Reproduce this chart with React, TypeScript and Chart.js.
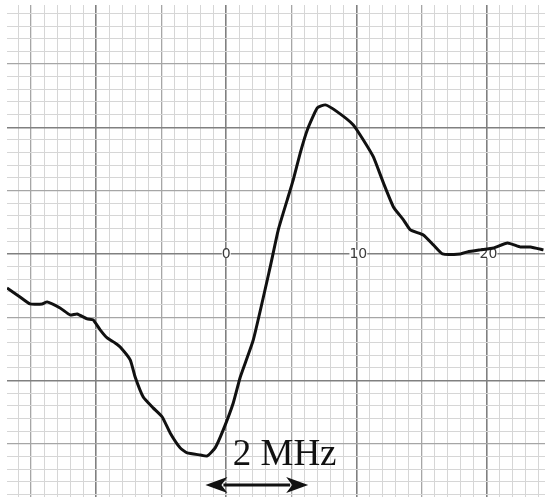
import React, { useEffect, useRef } from "react";
import { Chart, registerables } from "chart.js";

Chart.register(...registerables);

// Trace sampled from the recorder chart (x in chart divisions, y in chart divisions)
const traceX = [
  -16.85, -15.85, -15.08, -14.15, -13.77, -12.77, -12.0, -11.46, -10.69, -10.23,
  -9.69, -9.15, -8.54, -8.15, -7.38, -7.0, -6.38, -5.62, -4.92, -4.31,
  -3.54, -3.0, -2.0, -1.46, -0.85, -0.23, 0.54, 1.08, 2.08, 3.38,
  4.0, 4.69, 5.15, 5.69, 6.23, 7.0, 7.62, 8.54, 9.77, 10.54,
  11.31, 12.08, 12.85, 13.62, 14.15, 15.15, 15.92, 16.62, 18.0, 18.54,
  19.54, 20.54, 21.62, 22.62, 23.38, 24.38,
];
const traceY = [
  -2.69, -3.4, -3.95, -3.95, -3.79, -4.27, -4.82, -4.74, -5.13, -5.21,
  -6.0, -6.64, -7.03, -7.35, -8.37, -9.72, -11.3, -12.16, -12.88, -14.14,
  -15.32, -15.72, -15.88, -15.96, -15.32, -13.9, -11.77, -9.72, -6.79, -1.03,
  1.9, 4.27, 5.85, 7.98, 9.79, 11.53, 11.77, 11.22, 10.19, 9.0,
  7.66, 5.61, 3.71, 2.69, 1.9, 1.5, 0.71, 0.0, 0.0, 0.16,
  0.32, 0.47, 0.87, 0.55, 0.55, 0.32,
];

// Printed axis labels on the chart paper
const axisLabelValues = [0, 10, 20];
const axisLabels = ["0", "10", "20"];

// Scale annotation
const scaleBarText = "2 MHz";
const scaleBarFrom = -1.6;
const scaleBarTo = 6.3;
const scaleBarY = -18.25;
const scaleTextX = 0.5;
const scaleTextY = -16.7;

const X_MIN = -16.85;
const X_MAX = 24.5;
const Y_MIN = -19.2;
const Y_MAX = 19.66;

function gridColor(v: number) {
  if (Math.abs(v % 10) < 1e-6) return "#808080";
  if (Math.abs(v % 5) < 1e-6) return "#a6a6a6";
  return "#d6d6d6";
}
function gridWidth(v: number) {
  if (Math.abs(v % 10) < 1e-6) return 1.6;
  if (Math.abs(v % 5) < 1e-6) return 1.3;
  return 1;
}

const annotationPlugin = {
  id: "paperAnnotations",
  beforeDatasetsDraw(chart: any) {
    const { ctx, scales } = chart;
    const xs = scales.x;
    const ys = scales.y;
    ctx.save();
    ctx.font = "14px 'DejaVu Sans'";
    ctx.textAlign = "center";
    ctx.textBaseline = "middle";
    axisLabelValues.forEach((v, i) => {
      const w = ctx.measureText(axisLabels[i]).width;
      const px = xs.getPixelForValue(v) + (axisLabels[i].length > 1 ? 2 : 0);
      const py = ys.getPixelForValue(0);
      ctx.fillStyle = "#ffffff";
      ctx.fillRect(px - w / 2, py - 4, w, 8);
      ctx.fillStyle = "#3c3c3c";
      ctx.fillText(axisLabels[i], px, py);
    });
    ctx.restore();
  },
  afterDatasetsDraw(chart: any) {
    const { ctx, scales } = chart;
    const xs = scales.x;
    const ys = scales.y;
    ctx.save();
    ctx.font = "37px 'Liberation Serif'";
    ctx.fillStyle = "#111111";
    ctx.textAlign = "left";
    ctx.textBaseline = "alphabetic";
    ctx.fillText(scaleBarText, xs.getPixelForValue(scaleTextX), ys.getPixelForValue(scaleTextY));
    const x1 = xs.getPixelForValue(scaleBarFrom);
    const x2 = xs.getPixelForValue(scaleBarTo);
    const y = ys.getPixelForValue(scaleBarY);
    const head = 22;
    const half = 8;
    ctx.strokeStyle = "#111111";
    ctx.lineWidth = 3;
    ctx.beginPath();
    ctx.moveTo(x1 + head - 4, y);
    ctx.lineTo(x2 - head + 4, y);
    ctx.stroke();
    ctx.beginPath();
    ctx.moveTo(x1, y);
    ctx.lineTo(x1 + head, y - half);
    ctx.lineTo(x1 + head - 6, y);
    ctx.lineTo(x1 + head, y + half);
    ctx.closePath();
    ctx.fill();
    ctx.beginPath();
    ctx.moveTo(x2, y);
    ctx.lineTo(x2 - head, y - half);
    ctx.lineTo(x2 - head + 6, y);
    ctx.lineTo(x2 - head, y + half);
    ctx.closePath();
    ctx.fill();
    ctx.restore();
  },
};

export default function App() {
  const canvasRef = useRef<HTMLCanvasElement | null>(null);

  useEffect(() => {
    if (!canvasRef.current) return;
    const data = traceX.map((x, i) => ({ x, y: traceY[i] }));
    const chart = new Chart(canvasRef.current, {
      type: "line",
      data: {
        datasets: [
          {
            data,
            borderColor: "#111111",
            borderWidth: 3,
            pointRadius: 0,
            tension: 0.15,
            fill: false,
          },
        ],
      },
      options: {
        animation: false,
        responsive: false,
        maintainAspectRatio: false,
        layout: { padding: { left: 7, right: 5, top: 5, bottom: 4 } },
        plugins: { legend: { display: false }, tooltip: { enabled: false } },
        scales: {
          x: {
            type: "linear",
            min: X_MIN,
            max: X_MAX,
            border: { display: false },
            ticks: { display: false, stepSize: 1, includeBounds: false },
            grid: {
              drawTicks: false,
              color: (c: any) => gridColor(c.tick.value),
              lineWidth: (c: any) => gridWidth(c.tick.value),
            },
          },
          y: {
            type: "linear",
            min: Y_MIN,
            max: Y_MAX,
            border: { display: false },
            ticks: { display: false, stepSize: 1, includeBounds: false },
            grid: {
              drawTicks: false,
              color: (c: any) => gridColor(c.tick.value),
              lineWidth: (c: any) => gridWidth(c.tick.value),
            },
          },
        },
      },
      plugins: [annotationPlugin],
    });
    return () => chart.destroy();
  }, []);

  return (
    <div style={{ position: "absolute", left: 0, top: 0, width: 550, height: 501, background: "#ffffff" }}>
      <canvas ref={canvasRef} width={550} height={501} />
    </div>
  );
}
